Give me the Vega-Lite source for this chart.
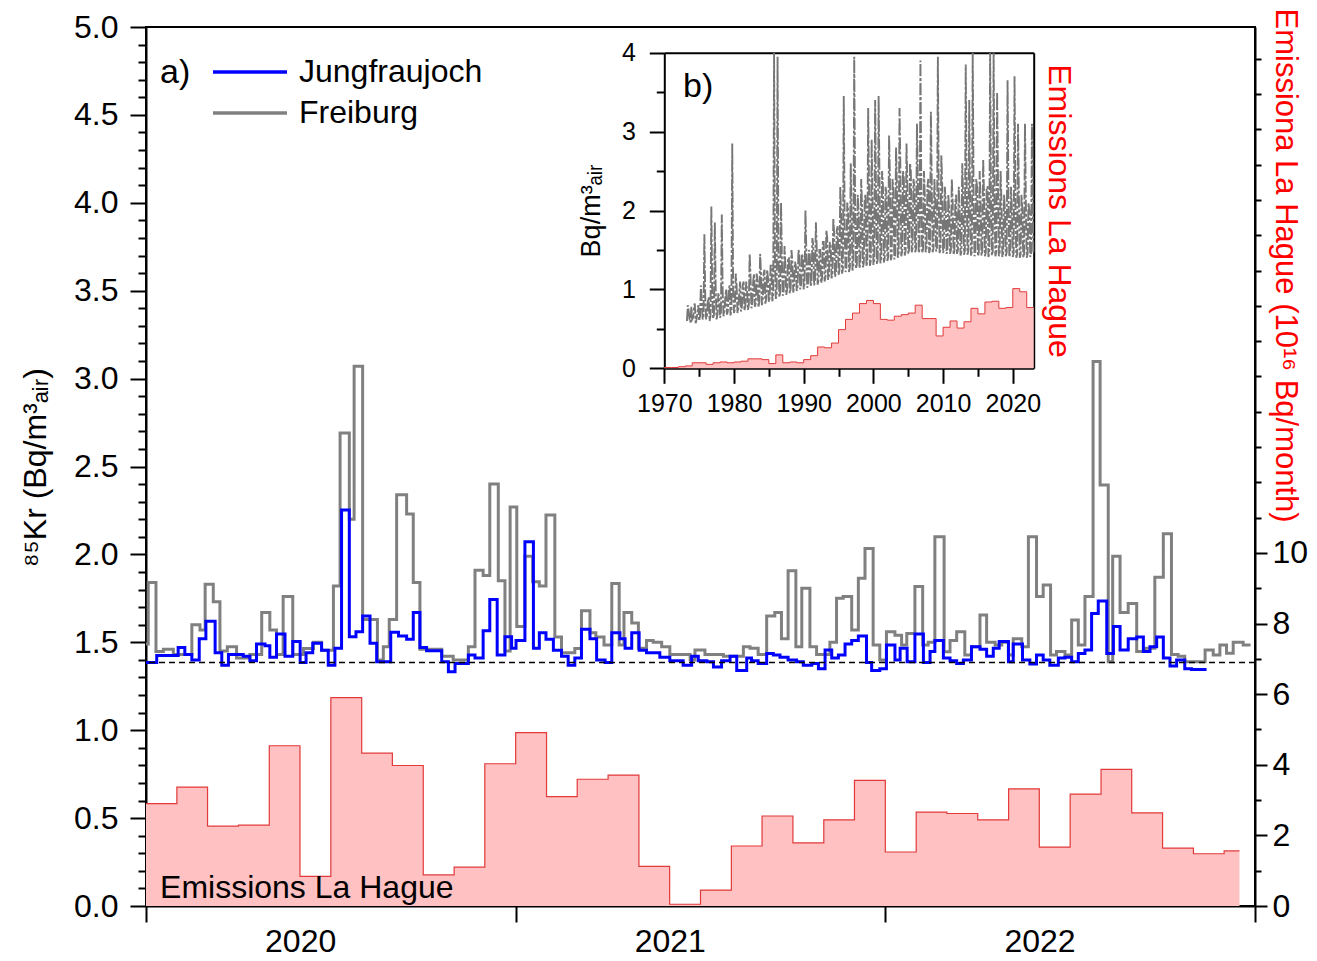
{
  "$schema": "https://vega.github.io/schema/vega-lite/v6.json",
  "width": 1109,
  "height": 879,
  "autosize": "none",
  "padding": {"left": 146, "top": 27, "right": 62, "bottom": 55},
  "background": "white",
  "config": {
    "font": "Liberation Sans",
    "view": {"stroke": "black", "strokeWidth": 2},
    "axis": {"domainColor": "black", "domainWidth": 2, "tickColor": "black", "tickWidth": 2, "labelColor": "black", "grid": false, "labelFlush": false, "labelOverlap": false, "titleFontWeight": "normal", "titleColor": "black"},
    "legend": {"labelColor": "black", "titleColor": "black"}
  },
  "datasets": {
    "emis": [
      {"t": 2019.958, "e": 2.90}, {"t": 2020.042, "e": 2.90}, {"t": 2020.125, "e": 3.37}, {"t": 2020.208, "e": 2.26},
      {"t": 2020.292, "e": 2.29}, {"t": 2020.375, "e": 4.54}, {"t": 2020.458, "e": 0.84}, {"t": 2020.542, "e": 5.90},
      {"t": 2020.625, "e": 4.33}, {"t": 2020.708, "e": 3.98}, {"t": 2020.792, "e": 0.88}, {"t": 2020.875, "e": 1.10},
      {"t": 2020.958, "e": 4.03}, {"t": 2021.042, "e": 4.91}, {"t": 2021.125, "e": 3.10}, {"t": 2021.208, "e": 3.59},
      {"t": 2021.292, "e": 3.71}, {"t": 2021.375, "e": 1.12}, {"t": 2021.458, "e": 0.05}, {"t": 2021.542, "e": 0.45},
      {"t": 2021.625, "e": 1.70}, {"t": 2021.708, "e": 2.55}, {"t": 2021.792, "e": 1.79}, {"t": 2021.875, "e": 2.44},
      {"t": 2021.958, "e": 3.56}, {"t": 2022.042, "e": 1.53}, {"t": 2022.125, "e": 2.66}, {"t": 2022.208, "e": 2.62},
      {"t": 2022.292, "e": 2.44}, {"t": 2022.375, "e": 3.32}, {"t": 2022.458, "e": 1.67}, {"t": 2022.542, "e": 3.17},
      {"t": 2022.625, "e": 3.87}, {"t": 2022.708, "e": 2.64}, {"t": 2022.792, "e": 1.64}, {"t": 2022.875, "e": 1.48},
      {"t": 2022.958, "e": 1.56}
    ],
    "lines": [
      {"s": "Freiburg", "t": 2020.000, "v": 1.49}, {"s": "Freiburg", "t": 2020.006, "v": 1.84}, {"s": "Freiburg", "t": 2020.027, "v": 1.447}, {"s": "Freiburg", "t": 2020.047, "v": 1.46},
      {"s": "Freiburg", "t": 2020.074, "v": 1.43}, {"s": "Freiburg", "t": 2020.124, "v": 1.60}, {"s": "Freiburg", "t": 2020.146, "v": 1.57}, {"s": "Freiburg", "t": 2020.160, "v": 1.83},
      {"s": "Freiburg", "t": 2020.182, "v": 1.73}, {"s": "Freiburg", "t": 2020.200, "v": 1.45}, {"s": "Freiburg", "t": 2020.220, "v": 1.475}, {"s": "Freiburg", "t": 2020.245, "v": 1.41},
      {"s": "Freiburg", "t": 2020.281, "v": 1.43}, {"s": "Freiburg", "t": 2020.313, "v": 1.67}, {"s": "Freiburg", "t": 2020.335, "v": 1.57}, {"s": "Freiburg", "t": 2020.353, "v": 1.43},
      {"s": "Freiburg", "t": 2020.371, "v": 1.76}, {"s": "Freiburg", "t": 2020.397, "v": 1.43}, {"s": "Freiburg", "t": 2020.426, "v": 1.465}, {"s": "Freiburg", "t": 2020.453, "v": 1.50},
      {"s": "Freiburg", "t": 2020.475, "v": 1.455}, {"s": "Freiburg", "t": 2020.507, "v": 1.82}, {"s": "Freiburg", "t": 2020.525, "v": 2.69}, {"s": "Freiburg", "t": 2020.550, "v": 2.20},
      {"s": "Freiburg", "t": 2020.563, "v": 3.07}, {"s": "Freiburg", "t": 2020.586, "v": 1.63}, {"s": "Freiburg", "t": 2020.626, "v": 1.40}, {"s": "Freiburg", "t": 2020.642, "v": 1.475},
      {"s": "Freiburg", "t": 2020.658, "v": 1.63}, {"s": "Freiburg", "t": 2020.678, "v": 2.34}, {"s": "Freiburg", "t": 2020.705, "v": 2.23}, {"s": "Freiburg", "t": 2020.723, "v": 1.84},
      {"s": "Freiburg", "t": 2020.741, "v": 1.46}, {"s": "Freiburg", "t": 2020.800, "v": 1.42}, {"s": "Freiburg", "t": 2020.831, "v": 1.40}, {"s": "Freiburg", "t": 2020.872, "v": 1.475},
      {"s": "Freiburg", "t": 2020.890, "v": 1.91}, {"s": "Freiburg", "t": 2020.912, "v": 1.88}, {"s": "Freiburg", "t": 2020.930, "v": 2.40}, {"s": "Freiburg", "t": 2020.953, "v": 1.85},
      {"s": "Freiburg", "t": 2020.971, "v": 1.45}, {"s": "Freiburg", "t": 2020.985, "v": 2.27}, {"s": "Freiburg", "t": 2021.003, "v": 1.59}, {"s": "Freiburg", "t": 2021.025, "v": 1.99},
      {"s": "Freiburg", "t": 2021.046, "v": 1.845}, {"s": "Freiburg", "t": 2021.064, "v": 1.82}, {"s": "Freiburg", "t": 2021.082, "v": 2.224}, {"s": "Freiburg", "t": 2021.106, "v": 1.53},
      {"s": "Freiburg", "t": 2021.124, "v": 1.44}, {"s": "Freiburg", "t": 2021.160, "v": 1.465}, {"s": "Freiburg", "t": 2021.178, "v": 1.68}, {"s": "Freiburg", "t": 2021.201, "v": 1.555},
      {"s": "Freiburg", "t": 2021.217, "v": 1.53}, {"s": "Freiburg", "t": 2021.239, "v": 1.485}, {"s": "Freiburg", "t": 2021.260, "v": 1.835}, {"s": "Freiburg", "t": 2021.280, "v": 1.485},
      {"s": "Freiburg", "t": 2021.293, "v": 1.67}, {"s": "Freiburg", "t": 2021.314, "v": 1.61}, {"s": "Freiburg", "t": 2021.332, "v": 1.466}, {"s": "Freiburg", "t": 2021.354, "v": 1.51},
      {"s": "Freiburg", "t": 2021.372, "v": 1.50}, {"s": "Freiburg", "t": 2021.395, "v": 1.475}, {"s": "Freiburg", "t": 2021.417, "v": 1.43}, {"s": "Freiburg", "t": 2021.472, "v": 1.40},
      {"s": "Freiburg", "t": 2021.485, "v": 1.456}, {"s": "Freiburg", "t": 2021.512, "v": 1.43}, {"s": "Freiburg", "t": 2021.562, "v": 1.42}, {"s": "Freiburg", "t": 2021.616, "v": 1.475},
      {"s": "Freiburg", "t": 2021.634, "v": 1.466}, {"s": "Freiburg", "t": 2021.656, "v": 1.43}, {"s": "Freiburg", "t": 2021.679, "v": 1.65}, {"s": "Freiburg", "t": 2021.701, "v": 1.67},
      {"s": "Freiburg", "t": 2021.719, "v": 1.52}, {"s": "Freiburg", "t": 2021.737, "v": 1.907}, {"s": "Freiburg", "t": 2021.758, "v": 1.475}, {"s": "Freiburg", "t": 2021.774, "v": 1.807},
      {"s": "Freiburg", "t": 2021.796, "v": 1.475}, {"s": "Freiburg", "t": 2021.814, "v": 1.43}, {"s": "Freiburg", "t": 2021.850, "v": 1.50}, {"s": "Freiburg", "t": 2021.868, "v": 1.75},
      {"s": "Freiburg", "t": 2021.886, "v": 1.76}, {"s": "Freiburg", "t": 2021.909, "v": 1.57}, {"s": "Freiburg", "t": 2021.927, "v": 1.864}, {"s": "Freiburg", "t": 2021.945, "v": 2.034},
      {"s": "Freiburg", "t": 2021.967, "v": 1.485}, {"s": "Freiburg", "t": 2021.985, "v": 1.40}, {"s": "Freiburg", "t": 2022.003, "v": 1.56}, {"s": "Freiburg", "t": 2022.026, "v": 1.54},
      {"s": "Freiburg", "t": 2022.044, "v": 1.485}, {"s": "Freiburg", "t": 2022.058, "v": 1.55}, {"s": "Freiburg", "t": 2022.080, "v": 1.817}, {"s": "Freiburg", "t": 2022.101, "v": 1.485},
      {"s": "Freiburg", "t": 2022.116, "v": 1.50}, {"s": "Freiburg", "t": 2022.134, "v": 2.10}, {"s": "Freiburg", "t": 2022.159, "v": 1.446}, {"s": "Freiburg", "t": 2022.175, "v": 1.51},
      {"s": "Freiburg", "t": 2022.193, "v": 1.56}, {"s": "Freiburg", "t": 2022.215, "v": 1.428}, {"s": "Freiburg", "t": 2022.233, "v": 1.475}, {"s": "Freiburg", "t": 2022.256, "v": 1.655},
      {"s": "Freiburg", "t": 2022.274, "v": 1.50}, {"s": "Freiburg", "t": 2022.297, "v": 1.485}, {"s": "Freiburg", "t": 2022.315, "v": 1.50}, {"s": "Freiburg", "t": 2022.333, "v": 1.428},
      {"s": "Freiburg", "t": 2022.346, "v": 1.52}, {"s": "Freiburg", "t": 2022.369, "v": 1.475}, {"s": "Freiburg", "t": 2022.387, "v": 2.10}, {"s": "Freiburg", "t": 2022.409, "v": 1.76},
      {"s": "Freiburg", "t": 2022.427, "v": 1.826}, {"s": "Freiburg", "t": 2022.447, "v": 1.428}, {"s": "Freiburg", "t": 2022.463, "v": 1.447}, {"s": "Freiburg", "t": 2022.486, "v": 1.428},
      {"s": "Freiburg", "t": 2022.504, "v": 1.627}, {"s": "Freiburg", "t": 2022.522, "v": 1.485}, {"s": "Freiburg", "t": 2022.540, "v": 1.76}, {"s": "Freiburg", "t": 2022.562, "v": 3.097},
      {"s": "Freiburg", "t": 2022.581, "v": 2.395}, {"s": "Freiburg", "t": 2022.603, "v": 1.39}, {"s": "Freiburg", "t": 2022.615, "v": 1.99}, {"s": "Freiburg", "t": 2022.635, "v": 1.669},
      {"s": "Freiburg", "t": 2022.657, "v": 1.72}, {"s": "Freiburg", "t": 2022.680, "v": 1.447}, {"s": "Freiburg", "t": 2022.702, "v": 1.466}, {"s": "Freiburg", "t": 2022.729, "v": 1.87},
      {"s": "Freiburg", "t": 2022.752, "v": 2.117}, {"s": "Freiburg", "t": 2022.774, "v": 1.43}, {"s": "Freiburg", "t": 2022.792, "v": 1.42}, {"s": "Freiburg", "t": 2022.810, "v": 1.39},
      {"s": "Freiburg", "t": 2022.865, "v": 1.456}, {"s": "Freiburg", "t": 2022.887, "v": 1.428}, {"s": "Freiburg", "t": 2022.905, "v": 1.485}, {"s": "Freiburg", "t": 2022.923, "v": 1.438},
      {"s": "Freiburg", "t": 2022.941, "v": 1.50}, {"s": "Freiburg", "t": 2022.968, "v": 1.485}, {"s": "Freiburg", "t": 2022.988, "v": 1.485},
      {"s": "Jungfraujoch", "t": 2020.000, "v": 1.385}, {"s": "Jungfraujoch", "t": 2020.029, "v": 1.425}, {"s": "Jungfraujoch", "t": 2020.087, "v": 1.47}, {"s": "Jungfraujoch", "t": 2020.105, "v": 1.43},
      {"s": "Jungfraujoch", "t": 2020.124, "v": 1.40}, {"s": "Jungfraujoch", "t": 2020.144, "v": 1.52}, {"s": "Jungfraujoch", "t": 2020.162, "v": 1.62}, {"s": "Jungfraujoch", "t": 2020.187, "v": 1.44},
      {"s": "Jungfraujoch", "t": 2020.205, "v": 1.37}, {"s": "Jungfraujoch", "t": 2020.223, "v": 1.43}, {"s": "Jungfraujoch", "t": 2020.263, "v": 1.42}, {"s": "Jungfraujoch", "t": 2020.281, "v": 1.395},
      {"s": "Jungfraujoch", "t": 2020.299, "v": 1.49}, {"s": "Jungfraujoch", "t": 2020.322, "v": 1.48}, {"s": "Jungfraujoch", "t": 2020.335, "v": 1.415}, {"s": "Jungfraujoch", "t": 2020.353, "v": 1.547},
      {"s": "Jungfraujoch", "t": 2020.376, "v": 1.42}, {"s": "Jungfraujoch", "t": 2020.397, "v": 1.505}, {"s": "Jungfraujoch", "t": 2020.417, "v": 1.385}, {"s": "Jungfraujoch", "t": 2020.433, "v": 1.44},
      {"s": "Jungfraujoch", "t": 2020.451, "v": 1.495}, {"s": "Jungfraujoch", "t": 2020.475, "v": 1.455}, {"s": "Jungfraujoch", "t": 2020.493, "v": 1.37}, {"s": "Jungfraujoch", "t": 2020.511, "v": 1.466},
      {"s": "Jungfraujoch", "t": 2020.529, "v": 2.253}, {"s": "Jungfraujoch", "t": 2020.550, "v": 1.532}, {"s": "Jungfraujoch", "t": 2020.568, "v": 1.56}, {"s": "Jungfraujoch", "t": 2020.586, "v": 1.65},
      {"s": "Jungfraujoch", "t": 2020.606, "v": 1.495}, {"s": "Jungfraujoch", "t": 2020.624, "v": 1.39}, {"s": "Jungfraujoch", "t": 2020.662, "v": 1.557}, {"s": "Jungfraujoch", "t": 2020.683, "v": 1.536},
      {"s": "Jungfraujoch", "t": 2020.705, "v": 1.517}, {"s": "Jungfraujoch", "t": 2020.723, "v": 1.669}, {"s": "Jungfraujoch", "t": 2020.741, "v": 1.471}, {"s": "Jungfraujoch", "t": 2020.759, "v": 1.452},
      {"s": "Jungfraujoch", "t": 2020.800, "v": 1.39}, {"s": "Jungfraujoch", "t": 2020.818, "v": 1.333}, {"s": "Jungfraujoch", "t": 2020.836, "v": 1.38}, {"s": "Jungfraujoch", "t": 2020.872, "v": 1.428},
      {"s": "Jungfraujoch", "t": 2020.890, "v": 1.41}, {"s": "Jungfraujoch", "t": 2020.912, "v": 1.566}, {"s": "Jungfraujoch", "t": 2020.930, "v": 1.744}, {"s": "Jungfraujoch", "t": 2020.950, "v": 1.428},
      {"s": "Jungfraujoch", "t": 2020.971, "v": 1.532}, {"s": "Jungfraujoch", "t": 2020.989, "v": 1.466}, {"s": "Jungfraujoch", "t": 2021.001, "v": 1.51}, {"s": "Jungfraujoch", "t": 2021.025, "v": 2.072},
      {"s": "Jungfraujoch", "t": 2021.048, "v": 1.466}, {"s": "Jungfraujoch", "t": 2021.064, "v": 1.555}, {"s": "Jungfraujoch", "t": 2021.082, "v": 1.517}, {"s": "Jungfraujoch", "t": 2021.102, "v": 1.455},
      {"s": "Jungfraujoch", "t": 2021.124, "v": 1.42}, {"s": "Jungfraujoch", "t": 2021.142, "v": 1.37}, {"s": "Jungfraujoch", "t": 2021.160, "v": 1.41}, {"s": "Jungfraujoch", "t": 2021.178, "v": 1.574},
      {"s": "Jungfraujoch", "t": 2021.201, "v": 1.52}, {"s": "Jungfraujoch", "t": 2021.219, "v": 1.40}, {"s": "Jungfraujoch", "t": 2021.242, "v": 1.385}, {"s": "Jungfraujoch", "t": 2021.260, "v": 1.555},
      {"s": "Jungfraujoch", "t": 2021.282, "v": 1.52}, {"s": "Jungfraujoch", "t": 2021.296, "v": 1.466}, {"s": "Jungfraujoch", "t": 2021.314, "v": 1.555}, {"s": "Jungfraujoch", "t": 2021.334, "v": 1.455},
      {"s": "Jungfraujoch", "t": 2021.354, "v": 1.44}, {"s": "Jungfraujoch", "t": 2021.390, "v": 1.415}, {"s": "Jungfraujoch", "t": 2021.417, "v": 1.395}, {"s": "Jungfraujoch", "t": 2021.453, "v": 1.37},
      {"s": "Jungfraujoch", "t": 2021.476, "v": 1.42}, {"s": "Jungfraujoch", "t": 2021.494, "v": 1.395}, {"s": "Jungfraujoch", "t": 2021.517, "v": 1.39}, {"s": "Jungfraujoch", "t": 2021.535, "v": 1.36},
      {"s": "Jungfraujoch", "t": 2021.557, "v": 1.395}, {"s": "Jungfraujoch", "t": 2021.580, "v": 1.42}, {"s": "Jungfraujoch", "t": 2021.598, "v": 1.34}, {"s": "Jungfraujoch", "t": 2021.625, "v": 1.41},
      {"s": "Jungfraujoch", "t": 2021.638, "v": 1.395}, {"s": "Jungfraujoch", "t": 2021.656, "v": 1.38}, {"s": "Jungfraujoch", "t": 2021.679, "v": 1.437}, {"s": "Jungfraujoch", "t": 2021.697, "v": 1.428},
      {"s": "Jungfraujoch", "t": 2021.715, "v": 1.415}, {"s": "Jungfraujoch", "t": 2021.737, "v": 1.40}, {"s": "Jungfraujoch", "t": 2021.760, "v": 1.39}, {"s": "Jungfraujoch", "t": 2021.778, "v": 1.37},
      {"s": "Jungfraujoch", "t": 2021.801, "v": 1.38}, {"s": "Jungfraujoch", "t": 2021.819, "v": 1.35}, {"s": "Jungfraujoch", "t": 2021.837, "v": 1.456}, {"s": "Jungfraujoch", "t": 2021.855, "v": 1.41},
      {"s": "Jungfraujoch", "t": 2021.873, "v": 1.428}, {"s": "Jungfraujoch", "t": 2021.891, "v": 1.49}, {"s": "Jungfraujoch", "t": 2021.909, "v": 1.51}, {"s": "Jungfraujoch", "t": 2021.927, "v": 1.536},
      {"s": "Jungfraujoch", "t": 2021.949, "v": 1.385}, {"s": "Jungfraujoch", "t": 2021.963, "v": 1.34}, {"s": "Jungfraujoch", "t": 2021.985, "v": 1.35}, {"s": "Jungfraujoch", "t": 2022.003, "v": 1.485},
      {"s": "Jungfraujoch", "t": 2022.026, "v": 1.40}, {"s": "Jungfraujoch", "t": 2022.040, "v": 1.466}, {"s": "Jungfraujoch", "t": 2022.059, "v": 1.39}, {"s": "Jungfraujoch", "t": 2022.080, "v": 1.547},
      {"s": "Jungfraujoch", "t": 2022.103, "v": 1.385}, {"s": "Jungfraujoch", "t": 2022.121, "v": 1.447}, {"s": "Jungfraujoch", "t": 2022.134, "v": 1.51}, {"s": "Jungfraujoch", "t": 2022.157, "v": 1.41},
      {"s": "Jungfraujoch", "t": 2022.175, "v": 1.395}, {"s": "Jungfraujoch", "t": 2022.193, "v": 1.38}, {"s": "Jungfraujoch", "t": 2022.211, "v": 1.40}, {"s": "Jungfraujoch", "t": 2022.233, "v": 1.475},
      {"s": "Jungfraujoch", "t": 2022.256, "v": 1.46}, {"s": "Jungfraujoch", "t": 2022.274, "v": 1.42}, {"s": "Jungfraujoch", "t": 2022.292, "v": 1.466}, {"s": "Jungfraujoch", "t": 2022.308, "v": 1.505},
      {"s": "Jungfraujoch", "t": 2022.333, "v": 1.39}, {"s": "Jungfraujoch", "t": 2022.346, "v": 1.49}, {"s": "Jungfraujoch", "t": 2022.371, "v": 1.40}, {"s": "Jungfraujoch", "t": 2022.391, "v": 1.377},
      {"s": "Jungfraujoch", "t": 2022.409, "v": 1.428}, {"s": "Jungfraujoch", "t": 2022.427, "v": 1.40}, {"s": "Jungfraujoch", "t": 2022.445, "v": 1.37}, {"s": "Jungfraujoch", "t": 2022.468, "v": 1.41},
      {"s": "Jungfraujoch", "t": 2022.486, "v": 1.415}, {"s": "Jungfraujoch", "t": 2022.504, "v": 1.39}, {"s": "Jungfraujoch", "t": 2022.522, "v": 1.437}, {"s": "Jungfraujoch", "t": 2022.540, "v": 1.456},
      {"s": "Jungfraujoch", "t": 2022.558, "v": 1.664}, {"s": "Jungfraujoch", "t": 2022.576, "v": 1.735}, {"s": "Jungfraujoch", "t": 2022.599, "v": 1.437}, {"s": "Jungfraujoch", "t": 2022.617, "v": 1.59},
      {"s": "Jungfraujoch", "t": 2022.635, "v": 1.456}, {"s": "Jungfraujoch", "t": 2022.657, "v": 1.52}, {"s": "Jungfraujoch", "t": 2022.680, "v": 1.53}, {"s": "Jungfraujoch", "t": 2022.698, "v": 1.447},
      {"s": "Jungfraujoch", "t": 2022.716, "v": 1.475}, {"s": "Jungfraujoch", "t": 2022.734, "v": 1.53}, {"s": "Jungfraujoch", "t": 2022.752, "v": 1.41}, {"s": "Jungfraujoch", "t": 2022.770, "v": 1.365},
      {"s": "Jungfraujoch", "t": 2022.788, "v": 1.40}, {"s": "Jungfraujoch", "t": 2022.810, "v": 1.35}, {"s": "Jungfraujoch", "t": 2022.828, "v": 1.345}, {"s": "Jungfraujoch", "t": 2022.869, "v": 1.345}
    ],
    "insetE": [
      {"t": 1970, "e": 0.01}, {"t": 1971, "e": 0.01}, {"t": 1972, "e": 0.02}, {"t": 1973, "e": 0.03}, {"t": 1974, "e": 0.07}, {"t": 1975, "e": 0.07},
      {"t": 1976, "e": 0.05}, {"t": 1977, "e": 0.07}, {"t": 1978, "e": 0.08}, {"t": 1979, "e": 0.07}, {"t": 1980, "e": 0.08}, {"t": 1981, "e": 0.09},
      {"t": 1982, "e": 0.12}, {"t": 1983, "e": 0.12}, {"t": 1984, "e": 0.11}, {"t": 1985, "e": 0.06}, {"t": 1986, "e": 0.17}, {"t": 1987, "e": 0.07},
      {"t": 1988, "e": 0.08}, {"t": 1989, "e": 0.07}, {"t": 1990, "e": 0.11}, {"t": 1991, "e": 0.16}, {"t": 1992, "e": 0.27}, {"t": 1993, "e": 0.26},
      {"t": 1994, "e": 0.32}, {"t": 1995, "e": 0.49}, {"t": 1996, "e": 0.62}, {"t": 1997, "e": 0.70}, {"t": 1998, "e": 0.82}, {"t": 1999, "e": 0.86},
      {"t": 2000, "e": 0.82}, {"t": 2001, "e": 0.62}, {"t": 2002, "e": 0.61}, {"t": 2003, "e": 0.66}, {"t": 2004, "e": 0.68}, {"t": 2005, "e": 0.70},
      {"t": 2006, "e": 0.80}, {"t": 2007, "e": 0.63}, {"t": 2008, "e": 0.63}, {"t": 2009, "e": 0.41}, {"t": 2010, "e": 0.52}, {"t": 2011, "e": 0.60},
      {"t": 2012, "e": 0.51}, {"t": 2013, "e": 0.59}, {"t": 2014, "e": 0.76}, {"t": 2015, "e": 0.69}, {"t": 2016, "e": 0.84}, {"t": 2017, "e": 0.85},
      {"t": 2018, "e": 0.76}, {"t": 2019, "e": 0.77}, {"t": 2020, "e": 1.01}, {"t": 2021, "e": 0.97}, {"t": 2022, "e": 0.77}, {"t": 2023, "e": 0.77}
    ],
    "inset": [
      {"t": 1973.25, "v": 0.60}, {"t": 1973.375, "v": 0.80}, {"t": 1973.5, "v": 0.72}, {"t": 1973.625, "v": 0.62}, {"t": 1973.75, "v": 0.58}, {"t": 1973.875, "v": 0.78},
      {"t": 1974.0, "v": 0.62}, {"t": 1974.125, "v": 0.64}, {"t": 1974.25, "v": 0.78}, {"t": 1974.375, "v": 0.82}, {"t": 1974.5, "v": 0.57}, {"t": 1974.625, "v": 0.62}, {"t": 1974.75, "v": 0.70}, {"t": 1974.875, "v": 0.80},
      {"t": 1975.0, "v": 0.60}, {"t": 1975.125, "v": 0.66}, {"t": 1975.25, "v": 1.05}, {"t": 1975.375, "v": 0.85}, {"t": 1975.5, "v": 0.62}, {"t": 1975.625, "v": 0.66}, {"t": 1975.75, "v": 1.70}, {"t": 1975.875, "v": 0.90},
      {"t": 1976.0, "v": 0.62}, {"t": 1976.125, "v": 0.67}, {"t": 1976.25, "v": 0.85}, {"t": 1976.375, "v": 0.90}, {"t": 1976.5, "v": 0.60}, {"t": 1976.625, "v": 0.66}, {"t": 1976.75, "v": 2.05}, {"t": 1976.875, "v": 0.95},
      {"t": 1977.0, "v": 0.63}, {"t": 1977.125, "v": 0.68}, {"t": 1977.25, "v": 1.85}, {"t": 1977.375, "v": 1.00}, {"t": 1977.5, "v": 0.62}, {"t": 1977.625, "v": 0.68}, {"t": 1977.75, "v": 0.95}, {"t": 1977.875, "v": 0.90},
      {"t": 1978.0, "v": 0.64}, {"t": 1978.125, "v": 0.70}, {"t": 1978.25, "v": 1.95}, {"t": 1978.375, "v": 0.95}, {"t": 1978.5, "v": 0.66}, {"t": 1978.625, "v": 0.72}, {"t": 1978.75, "v": 0.90}, {"t": 1978.875, "v": 1.00},
      {"t": 1979.0, "v": 0.68}, {"t": 1979.125, "v": 0.73}, {"t": 1979.25, "v": 1.00}, {"t": 1979.375, "v": 1.05}, {"t": 1979.5, "v": 0.67}, {"t": 1979.625, "v": 0.74}, {"t": 1979.75, "v": 2.85}, {"t": 1979.875, "v": 1.00},
      {"t": 1980.0, "v": 0.70}, {"t": 1980.125, "v": 0.75}, {"t": 1980.25, "v": 1.20}, {"t": 1980.375, "v": 1.05}, {"t": 1980.5, "v": 0.70}, {"t": 1980.625, "v": 0.76}, {"t": 1980.75, "v": 0.95}, {"t": 1980.875, "v": 1.10},
      {"t": 1981.0, "v": 0.72}, {"t": 1981.125, "v": 0.77}, {"t": 1981.25, "v": 1.05}, {"t": 1981.375, "v": 1.10}, {"t": 1981.5, "v": 0.73}, {"t": 1981.625, "v": 0.79}, {"t": 1981.75, "v": 1.10}, {"t": 1981.875, "v": 1.00},
      {"t": 1982.0, "v": 0.74}, {"t": 1982.125, "v": 0.80}, {"t": 1982.25, "v": 1.45}, {"t": 1982.375, "v": 1.15}, {"t": 1982.5, "v": 0.76}, {"t": 1982.625, "v": 0.82}, {"t": 1982.75, "v": 1.10}, {"t": 1982.875, "v": 1.20},
      {"t": 1983.0, "v": 0.78}, {"t": 1983.125, "v": 0.83}, {"t": 1983.25, "v": 1.20}, {"t": 1983.375, "v": 1.10}, {"t": 1983.5, "v": 0.77}, {"t": 1983.625, "v": 0.84}, {"t": 1983.75, "v": 1.45}, {"t": 1983.875, "v": 1.20},
      {"t": 1984.0, "v": 0.80}, {"t": 1984.125, "v": 0.86}, {"t": 1984.25, "v": 1.20}, {"t": 1984.375, "v": 1.25}, {"t": 1984.5, "v": 0.82}, {"t": 1984.625, "v": 0.88}, {"t": 1984.75, "v": 1.25}, {"t": 1984.875, "v": 1.15},
      {"t": 1985.0, "v": 0.84}, {"t": 1985.125, "v": 0.90}, {"t": 1985.25, "v": 1.30}, {"t": 1985.375, "v": 1.30}, {"t": 1985.5, "v": 0.85}, {"t": 1985.625, "v": 0.92}, {"t": 1985.75, "v": 4.00}, {"t": 1985.875, "v": 1.40},
      {"t": 1986.0, "v": 0.88}, {"t": 1986.125, "v": 0.94}, {"t": 1986.25, "v": 3.95}, {"t": 1986.375, "v": 1.50}, {"t": 1986.5, "v": 0.90}, {"t": 1986.625, "v": 0.96}, {"t": 1986.75, "v": 2.10}, {"t": 1986.875, "v": 1.35},
      {"t": 1987.0, "v": 0.92}, {"t": 1987.125, "v": 0.98}, {"t": 1987.25, "v": 1.55}, {"t": 1987.375, "v": 1.30}, {"t": 1987.5, "v": 0.93}, {"t": 1987.625, "v": 1.00}, {"t": 1987.75, "v": 1.40}, {"t": 1987.875, "v": 1.40},
      {"t": 1988.0, "v": 0.95}, {"t": 1988.125, "v": 1.01}, {"t": 1988.25, "v": 1.50}, {"t": 1988.375, "v": 1.35}, {"t": 1988.5, "v": 0.96}, {"t": 1988.625, "v": 1.03}, {"t": 1988.75, "v": 1.35}, {"t": 1988.875, "v": 1.30},
      {"t": 1989.0, "v": 0.98}, {"t": 1989.125, "v": 1.04}, {"t": 1989.25, "v": 1.50}, {"t": 1989.375, "v": 1.45}, {"t": 1989.5, "v": 1.00}, {"t": 1989.625, "v": 1.06}, {"t": 1989.75, "v": 1.45}, {"t": 1989.875, "v": 1.40},
      {"t": 1990.0, "v": 1.00}, {"t": 1990.125, "v": 1.07}, {"t": 1990.25, "v": 2.00}, {"t": 1990.375, "v": 1.50}, {"t": 1990.5, "v": 1.02}, {"t": 1990.625, "v": 1.08}, {"t": 1990.75, "v": 1.50}, {"t": 1990.875, "v": 1.45},
      {"t": 1991.0, "v": 1.04}, {"t": 1991.125, "v": 1.10}, {"t": 1991.25, "v": 1.65}, {"t": 1991.375, "v": 1.55}, {"t": 1991.5, "v": 1.05}, {"t": 1991.625, "v": 1.12}, {"t": 1991.75, "v": 1.85}, {"t": 1991.875, "v": 1.50},
      {"t": 1992.0, "v": 1.06}, {"t": 1992.125, "v": 1.12}, {"t": 1992.25, "v": 1.50}, {"t": 1992.375, "v": 1.50}, {"t": 1992.5, "v": 1.08}, {"t": 1992.625, "v": 1.14}, {"t": 1992.75, "v": 1.60}, {"t": 1992.875, "v": 1.60},
      {"t": 1993.0, "v": 1.10}, {"t": 1993.125, "v": 1.16}, {"t": 1993.25, "v": 1.75}, {"t": 1993.375, "v": 1.65}, {"t": 1993.5, "v": 1.12}, {"t": 1993.625, "v": 1.18}, {"t": 1993.75, "v": 1.60}, {"t": 1993.875, "v": 1.55},
      {"t": 1994.0, "v": 1.14}, {"t": 1994.125, "v": 1.20}, {"t": 1994.25, "v": 1.90}, {"t": 1994.375, "v": 1.70}, {"t": 1994.5, "v": 1.16}, {"t": 1994.625, "v": 1.22}, {"t": 1994.75, "v": 1.75}, {"t": 1994.875, "v": 1.80},
      {"t": 1995.0, "v": 1.18}, {"t": 1995.125, "v": 1.24}, {"t": 1995.25, "v": 2.30}, {"t": 1995.375, "v": 1.90}, {"t": 1995.5, "v": 1.20}, {"t": 1995.625, "v": 1.26}, {"t": 1995.75, "v": 3.45}, {"t": 1995.875, "v": 1.85},
      {"t": 1996.0, "v": 1.22}, {"t": 1996.125, "v": 1.27}, {"t": 1996.25, "v": 2.10}, {"t": 1996.375, "v": 2.00}, {"t": 1996.5, "v": 1.22}, {"t": 1996.625, "v": 1.28}, {"t": 1996.75, "v": 2.60}, {"t": 1996.875, "v": 1.90},
      {"t": 1997.0, "v": 1.24}, {"t": 1997.125, "v": 1.30}, {"t": 1997.25, "v": 3.95}, {"t": 1997.375, "v": 2.10}, {"t": 1997.5, "v": 1.26}, {"t": 1997.625, "v": 1.32}, {"t": 1997.75, "v": 2.20}, {"t": 1997.875, "v": 2.00},
      {"t": 1998.0, "v": 1.27}, {"t": 1998.125, "v": 1.33}, {"t": 1998.25, "v": 2.40}, {"t": 1998.375, "v": 2.05}, {"t": 1998.5, "v": 1.28}, {"t": 1998.625, "v": 1.34}, {"t": 1998.75, "v": 2.15}, {"t": 1998.875, "v": 2.20},
      {"t": 1999.0, "v": 1.29}, {"t": 1999.125, "v": 1.35}, {"t": 1999.25, "v": 3.30}, {"t": 1999.375, "v": 2.30}, {"t": 1999.5, "v": 1.30}, {"t": 1999.625, "v": 1.36}, {"t": 1999.75, "v": 2.90}, {"t": 1999.875, "v": 2.10},
      {"t": 2000.0, "v": 1.31}, {"t": 2000.125, "v": 1.37}, {"t": 2000.25, "v": 3.40}, {"t": 2000.375, "v": 2.20}, {"t": 2000.5, "v": 1.32}, {"t": 2000.625, "v": 1.38}, {"t": 2000.75, "v": 3.45}, {"t": 2000.875, "v": 2.40},
      {"t": 2001.0, "v": 1.33}, {"t": 2001.125, "v": 1.39}, {"t": 2001.25, "v": 2.50}, {"t": 2001.375, "v": 2.30}, {"t": 2001.5, "v": 1.34}, {"t": 2001.625, "v": 1.40}, {"t": 2001.75, "v": 2.30}, {"t": 2001.875, "v": 2.20},
      {"t": 2002.0, "v": 1.36}, {"t": 2002.125, "v": 1.41}, {"t": 2002.25, "v": 2.95}, {"t": 2002.375, "v": 2.40}, {"t": 2002.5, "v": 1.37}, {"t": 2002.625, "v": 1.42}, {"t": 2002.75, "v": 2.40}, {"t": 2002.875, "v": 2.25},
      {"t": 2003.0, "v": 1.38}, {"t": 2003.125, "v": 1.44}, {"t": 2003.25, "v": 2.80}, {"t": 2003.375, "v": 2.30}, {"t": 2003.5, "v": 1.40}, {"t": 2003.625, "v": 1.46}, {"t": 2003.75, "v": 3.30}, {"t": 2003.875, "v": 2.50},
      {"t": 2004.0, "v": 1.42}, {"t": 2004.125, "v": 1.48}, {"t": 2004.25, "v": 2.50}, {"t": 2004.375, "v": 2.40}, {"t": 2004.5, "v": 1.43}, {"t": 2004.625, "v": 1.49}, {"t": 2004.75, "v": 2.85}, {"t": 2004.875, "v": 2.30},
      {"t": 2005.0, "v": 1.45}, {"t": 2005.125, "v": 1.51}, {"t": 2005.25, "v": 2.60}, {"t": 2005.375, "v": 2.50}, {"t": 2005.5, "v": 1.47}, {"t": 2005.625, "v": 1.52}, {"t": 2005.75, "v": 2.40}, {"t": 2005.875, "v": 2.30},
      {"t": 2006.0, "v": 1.47}, {"t": 2006.125, "v": 1.52}, {"t": 2006.25, "v": 3.10}, {"t": 2006.375, "v": 2.40}, {"t": 2006.5, "v": 1.46}, {"t": 2006.625, "v": 1.51}, {"t": 2006.75, "v": 3.90}, {"t": 2006.875, "v": 2.20},
      {"t": 2007.0, "v": 1.46}, {"t": 2007.125, "v": 1.51}, {"t": 2007.25, "v": 2.50}, {"t": 2007.375, "v": 2.20}, {"t": 2007.5, "v": 1.47}, {"t": 2007.625, "v": 1.52}, {"t": 2007.75, "v": 2.30}, {"t": 2007.875, "v": 2.40},
      {"t": 2008.0, "v": 1.46}, {"t": 2008.125, "v": 1.51}, {"t": 2008.25, "v": 3.25}, {"t": 2008.375, "v": 2.30}, {"t": 2008.5, "v": 1.47}, {"t": 2008.625, "v": 1.52}, {"t": 2008.75, "v": 2.40}, {"t": 2008.875, "v": 2.10},
      {"t": 2009.0, "v": 1.48}, {"t": 2009.125, "v": 1.53}, {"t": 2009.25, "v": 3.95}, {"t": 2009.375, "v": 2.20}, {"t": 2009.5, "v": 1.46}, {"t": 2009.625, "v": 1.51}, {"t": 2009.75, "v": 2.70}, {"t": 2009.875, "v": 2.30},
      {"t": 2010.0, "v": 1.46}, {"t": 2010.125, "v": 1.51}, {"t": 2010.25, "v": 2.30}, {"t": 2010.375, "v": 2.10}, {"t": 2010.5, "v": 1.45}, {"t": 2010.625, "v": 1.50}, {"t": 2010.75, "v": 2.20}, {"t": 2010.875, "v": 2.00},
      {"t": 2011.0, "v": 1.45}, {"t": 2011.125, "v": 1.50}, {"t": 2011.25, "v": 2.40}, {"t": 2011.375, "v": 2.10}, {"t": 2011.5, "v": 1.44}, {"t": 2011.625, "v": 1.49}, {"t": 2011.75, "v": 2.10}, {"t": 2011.875, "v": 2.20},
      {"t": 2012.0, "v": 1.45}, {"t": 2012.125, "v": 1.50}, {"t": 2012.25, "v": 2.30}, {"t": 2012.375, "v": 2.00}, {"t": 2012.5, "v": 1.43}, {"t": 2012.625, "v": 1.48}, {"t": 2012.75, "v": 2.60}, {"t": 2012.875, "v": 2.20},
      {"t": 2013.0, "v": 1.44}, {"t": 2013.125, "v": 1.49}, {"t": 2013.25, "v": 3.85}, {"t": 2013.375, "v": 2.30}, {"t": 2013.5, "v": 1.44}, {"t": 2013.625, "v": 1.49}, {"t": 2013.75, "v": 3.40}, {"t": 2013.875, "v": 2.10},
      {"t": 2014.0, "v": 1.43}, {"t": 2014.125, "v": 1.48}, {"t": 2014.25, "v": 4.00}, {"t": 2014.375, "v": 2.20}, {"t": 2014.5, "v": 1.42}, {"t": 2014.625, "v": 1.47}, {"t": 2014.75, "v": 2.40}, {"t": 2014.875, "v": 2.30},
      {"t": 2015.0, "v": 1.42}, {"t": 2015.125, "v": 1.47}, {"t": 2015.25, "v": 2.50}, {"t": 2015.375, "v": 2.10}, {"t": 2015.5, "v": 1.43}, {"t": 2015.625, "v": 1.48}, {"t": 2015.75, "v": 2.65}, {"t": 2015.875, "v": 2.20},
      {"t": 2016.0, "v": 1.42}, {"t": 2016.125, "v": 1.47}, {"t": 2016.25, "v": 2.30}, {"t": 2016.375, "v": 2.30}, {"t": 2016.5, "v": 1.41}, {"t": 2016.625, "v": 1.46}, {"t": 2016.75, "v": 4.00}, {"t": 2016.875, "v": 2.10},
      {"t": 2017.0, "v": 1.43}, {"t": 2017.125, "v": 1.48}, {"t": 2017.25, "v": 4.00}, {"t": 2017.375, "v": 2.20}, {"t": 2017.5, "v": 1.42}, {"t": 2017.625, "v": 1.47}, {"t": 2017.75, "v": 3.50}, {"t": 2017.875, "v": 2.40},
      {"t": 2018.0, "v": 1.42}, {"t": 2018.125, "v": 1.47}, {"t": 2018.25, "v": 2.50}, {"t": 2018.375, "v": 2.10}, {"t": 2018.5, "v": 1.41}, {"t": 2018.625, "v": 1.46}, {"t": 2018.75, "v": 2.20}, {"t": 2018.875, "v": 2.00},
      {"t": 2019.0, "v": 1.42}, {"t": 2019.125, "v": 1.47}, {"t": 2019.25, "v": 3.65}, {"t": 2019.375, "v": 2.20}, {"t": 2019.5, "v": 1.41}, {"t": 2019.625, "v": 1.46}, {"t": 2019.75, "v": 2.30}, {"t": 2019.875, "v": 2.00},
      {"t": 2020.0, "v": 1.41}, {"t": 2020.125, "v": 1.46}, {"t": 2020.25, "v": 3.70}, {"t": 2020.375, "v": 2.10}, {"t": 2020.5, "v": 1.40}, {"t": 2020.625, "v": 1.45}, {"t": 2020.75, "v": 3.10}, {"t": 2020.875, "v": 2.20},
      {"t": 2021.0, "v": 1.40}, {"t": 2021.125, "v": 1.45}, {"t": 2021.25, "v": 2.20}, {"t": 2021.375, "v": 2.00}, {"t": 2021.5, "v": 1.40}, {"t": 2021.625, "v": 1.45}, {"t": 2021.75, "v": 3.10}, {"t": 2021.875, "v": 2.10},
      {"t": 2022.0, "v": 1.40}, {"t": 2022.125, "v": 1.45}, {"t": 2022.25, "v": 2.10}, {"t": 2022.375, "v": 2.00}, {"t": 2022.5, "v": 1.41}, {"t": 2022.625, "v": 1.46}, {"t": 2022.75, "v": 3.10}, {"t": 2022.875, "v": 2.05}, {"t": 2022.95, "v": 1.45}
    ]
  },
  "layer": [
    {
      "data": {"name": "emis"},
      "mark": {"type": "area", "interpolate": "step", "color": "#ffc1c1", "opacity": 1, "clip": true, "line": {"color": "#e23a3a", "strokeWidth": 1.2}},
      "encoding": {
        "x": {"field": "t", "type": "quantitative",
          "scale": {"domain": [2020, 2023], "nice": false, "zero": false},
          "axis": {"orient": "bottom", "values": [2020, 2020.417, 2021, 2021.417, 2022, 2022.417, 2023],
            "labelExpr": "datum.value % 1 === 0 ? '' : '' + floor(datum.value)",
            "tickOpacity": {"condition": {"test": "datum.value % 1 === 0", "value": 1}, "value": 0},
            "tickSize": 16, "labelFontSize": 32, "labelPadding": 4, "title": null}},
        "y": {"field": "e", "type": "quantitative",
          "scale": {"domain": [0, 24.9], "nice": false},
          "axis": {"orient": "right", "values": [0,1,2,3,4,5,6,7,8,9,10,11,12,13,14,15,16,17,18,19,20,21,22,23,24],
            "labelExpr": "datum.value <= 10 && datum.value % 2 === 0 ? format(datum.value, 'd') : ''",
            "tickSize": {"condition": {"test": "datum.value <= 10 && datum.value % 2 === 0", "value": 12}, "value": 6},
            "labelFontSize": 32, "labelPadding": 5,
            "title": "Emissiona La Hague (10¹⁶ Bq/month)", "titleColor": "#ff0000", "titleFontSize": 31,
            "titleAngle": 90, "titleAlign": "left", "titleBaseline": "middle", "titleX": 29, "titleY": -19}}
      }
    },
    {
      "data": {"name": "lines"},
      "mark": {"type": "line", "interpolate": "step-after", "strokeWidth": 3},
      "encoding": {
        "x": {"field": "t", "type": "quantitative", "scale": {"domain": [2020, 2023], "nice": false, "zero": false}, "axis": null},
        "y": {"field": "v", "type": "quantitative", "scale": {"domain": [0, 5], "nice": false},
          "axis": {"orient": "left",
            "values": [0,0.1,0.2,0.3,0.4,0.5,0.6,0.7,0.8,0.9,1,1.1,1.2,1.3,1.4,1.5,1.6,1.7,1.8,1.9,2,2.1,2.2,2.3,2.4,2.5,2.6,2.7,2.8,2.9,3,3.1,3.2,3.3,3.4,3.5,3.6,3.7,3.8,3.9,4,4.1,4.2,4.3,4.4,4.5,4.6,4.7,4.8,4.9,5],
            "labelExpr": "abs(datum.value * 2 - round(datum.value * 2)) < 0.01 ? format(datum.value, '.1f') : ''",
            "tickSize": {"condition": {"test": "abs(datum.value * 2 - round(datum.value * 2)) < 0.01", "value": 16}, "value": 8},
            "labelFontSize": 32, "labelPadding": 12,
            "title": "⁸⁵Kr (Bq/m³ₐᵢᵣ)", "titleFontSize": 32, "titleAngle": -90, "titleAlign": "center", "titleBaseline": "middle",
            "titleX": -111, "titleY": 440}},
        "color": {"field": "s", "type": "nominal",
          "scale": {"domain": ["Jungfraujoch", "Freiburg"], "range": ["#0000ff", "#808080"]},
          "legend": {"orient": "none", "legendX": 14, "legendY": 29, "title": "a)", "titleOrient": "left", "titleAnchor": "start",
            "titleFontSize": 34, "titleFontWeight": "normal", "titlePadding": 20,
            "symbolType": "stroke", "symbolSize": 5476, "symbolStrokeWidth": 3.5,
            "labelFontSize": 32, "labelOffset": 10, "labelLimit": 400, "rowPadding": 9, "clipHeight": 32}}
      }
    },
    {
      "data": {"values": [{}]},
      "mark": {"type": "rule", "color": "black", "strokeWidth": 1.5, "strokeDash": [6, 4]},
      "encoding": {"y": {"datum": 1.385, "type": "quantitative", "scale": {"domain": [0, 5], "nice": false}, "axis": null}}
    },
    {
      "data": {"values": [{}]},
      "mark": {"type": "text", "align": "left", "baseline": "middle", "fontSize": 32, "color": "black"},
      "encoding": {
        "x": {"datum": 2020.038, "type": "quantitative", "scale": {"domain": [2020, 2023], "nice": false, "zero": false}, "axis": null},
        "y": {"datum": 0.1, "type": "quantitative", "scale": {"domain": [0, 5], "nice": false}, "axis": null},
        "text": {"value": "Emissions La Hague"}
      }
    },
    {
      "data": {"name": "insetE"},
      "mark": {"type": "area", "interpolate": "step-after", "color": "#ffc1c1", "opacity": 1, "line": {"color": "#e23a3a", "strokeWidth": 1}},
      "encoding": {
        "x": {"field": "t", "type": "quantitative",
          "scale": {"domain": [1970, 2023], "range": [518.3, 887.7], "nice": false, "zero": false},
          "axis": {"orient": "top", "offset": -25.7, "ticks": false, "labels": false, "title": null}},
        "y": {"field": "e", "type": "quantitative",
          "scale": {"domain": [0, 4], "range": [341.3, 25.7], "nice": false},
          "axis": {"orient": "right", "offset": -221.3, "ticks": false, "labels": false,
            "title": "Emissions La Hague", "titleColor": "#ff0000", "titleFontSize": 32, "titlePadding": 8}}
      }
    },
    {
      "data": {"name": "inset"},
      "mark": {"type": "line", "color": "#767676", "strokeWidth": 1.9, "strokeDash": [12, 2, 3, 2]},
      "encoding": {
        "x": {"field": "t", "type": "quantitative",
          "scale": {"domain": [1970, 2023], "range": [518.3, 887.7], "nice": false, "zero": false},
          "axis": {"orient": "bottom", "offset": -537.7, "values": [1970,1975,1980,1985,1990,1995,2000,2005,2010,2015,2020],
            "labelExpr": "datum.value % 10 === 0 ? '' + datum.value : ''",
            "tickSize": {"condition": {"test": "datum.value % 10 === 0", "value": 15}, "value": 8},
            "labelFontSize": 25, "labelPadding": 8, "title": null}},
        "y": {"field": "v", "type": "quantitative",
          "scale": {"domain": [0, 4], "range": [341.3, 25.7], "nice": false},
          "axis": {"orient": "left", "offset": -518.3, "values": [0,0.5,1,1.5,2,2.5,3,3.5,4],
            "labelExpr": "datum.value % 1 === 0 ? '' + datum.value : ''",
            "tickSize": {"condition": {"test": "datum.value % 1 === 0", "value": 15}, "value": 8},
            "labelFontSize": 25, "labelPadding": 14,
            "title": "Bq/m³ₐᵢᵣ", "titleFontSize": 27, "titlePadding": 16}}
      }
    },
    {
      "data": {"values": [{}]},
      "mark": {"type": "text", "align": "left", "baseline": "middle", "fontSize": 34, "color": "black"},
      "encoding": {
        "x": {"datum": 1972.7, "type": "quantitative", "scale": {"domain": [1970, 2023], "range": [518.3, 887.7], "nice": false, "zero": false}, "axis": null},
        "y": {"datum": 3.57, "type": "quantitative", "scale": {"domain": [0, 4], "range": [341.3, 25.7], "nice": false}, "axis": null},
        "text": {"value": "b)"}
      }
    }
  ],
  "resolve": {"scale": {"x": "independent", "y": "independent", "color": "independent"}}
}
